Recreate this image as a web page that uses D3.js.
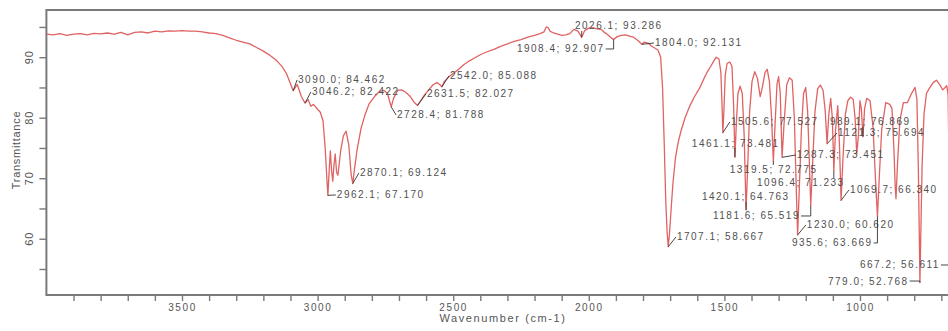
<!DOCTYPE html>
<html><head><meta charset="utf-8">
<script src="https://cdn.jsdelivr.net/npm/d3@7"></script>
<style>
html,body{margin:0;padding:0;overflow:hidden;background:#fff;}
svg{display:block;}
text{font-family:Arial,"Liberation Sans",sans-serif;}
</style></head><body>
<svg id="chart" width="1030" height="331"></svg>
<script>
// ---- data ----
const spectrumWn = [4000,3975,3950,3925,3900,3875,3850,3825,3800,3775,3750,3725,3700,3675,3650,3625,3600,3575,3550,3525,3500,3475,3450,3425,3400,3375,3350,3325,3300,3275,3250,3225,3200,3175,3150,3130,3115,3100,3090,
3075,3060,3046.2,3035,3025,3015,3000,2990,2980,2972,2966,2962.1,2957,2953,2948,2944,2940,2935,2930,2925,2915,2905,2895,2885,2876,2870.1,2864,2855,2840,2825,2810,2790,2770,2755,2742,2735,2728.4,2720,2705,2690,2675,2660,2645,2631.5,2620,2605,2590,2575,2560,2550,2542,2532,2515,2500,2480,2460,2440,2420,2400,2375,2350,2325,2300,2275,2250,2225,2200,2180,2165,2157,2150,2143,2130,2115,2100,2085,2070,2055,2040,2026.1,2015,2000,1985,1970,1955,1942,1930,1920,1908.4,1895,1880,1865,1850,1835,1820,1804,1795,1780,1768,1760,1745,1735,1728,1722,1716,1711,1707.1,1703,1697,1690,1680,1670,1660,1645,1627,1610,1590,1575,1565,1550,1540,1530,1520,1513,1509,1505.6,1502,1497,1490,1480,1472,1466,1461.1,1456,1450,1442,1434,1427,1420.1,1414,1407,1398,1388,1378,1368,1360,1350,1342,1334,1326,1319.5,1313,1306,1300,1294,1287.3,1280,1270,1260,1250,1242,1236,1230,1224,1216,1208,1200,1193,1187,1181.6,1175,1166,1156,1146,1136,1128,1121.3,1115,1108,1102,1096.4,1090,1082,1076,1069.7,1063,1054,1045,1035,1025,1018,1012,1006,1000,995,989.1,983,975,963,952,943,935.6,929,920,905,890,882,875,870,867.2,862,853,840,825,810,797,790,785,781,779,776,771,764,755,745,730,718,705,695,686,680,675,671,667.2,664,658,650,640,620,600];
const spectrumT = [93.8,93.7,93.9,93.6,93.8,93.9,93.7,93.95,93.85,94.0,93.8,94.1,93.7,94.1,94.2,94.0,94.3,94.2,94.35,94.3,94.4,94.3,94.3,94.2,94.0,93.9,93.6,93.2,92.8,92.5,92.2,91.6,91.0,90.3,89.4,88.4,87.3,85.6,84.462,
85.5,83.5,82.422,83.0,81.9,82.2,81.4,80.9,79.5,75.0,70.0,67.17,71.5,74.5,71.0,69.5,72.0,74.0,71.0,70.5,74.5,77.0,77.8,75.5,70.5,69.124,71.5,74.5,78.2,80.5,82.3,83.5,84.4,84.5,84.0,82.8,81.788,83.2,84.5,84.6,84.2,83.6,82.6,82.027,82.8,83.8,84.6,85.4,85.8,85.5,85.088,86.0,86.8,87.3,88.0,88.8,89.4,89.9,90.4,90.9,91.3,91.8,92.2,92.6,92.9,93.3,93.6,93.9,94.2,95.0,94.9,94.3,94.0,93.8,93.6,93.7,93.9,94.6,94.3,93.286,94.4,94.8,94.9,94.7,94.6,94.1,93.7,93.3,92.907,93.4,93.6,93.7,93.5,93.3,92.8,92.131,92.5,92.3,91.8,91.6,91.2,90.0,85.0,76.0,66.0,61.0,58.667,60.5,64.5,69.0,73.5,76.0,77.8,80.0,82.0,83.5,85.0,86.5,87.4,88.5,89.3,90.0,89.7,87.5,82.5,77.527,81.0,87.0,89.0,89.2,88.5,82.0,73.481,79.0,84.0,85.2,84.0,77.0,64.763,72.0,81.0,86.0,87.6,86.5,83.5,85.0,87.5,88.0,86.0,80.0,72.775,79.0,85.5,86.8,84.0,73.451,79.0,85.5,86.6,86.2,80.0,70.0,60.62,68.0,78.0,84.0,85.0,81.0,73.0,65.519,72.0,81.0,84.8,85.4,84.5,81.0,75.694,80.5,83.2,80.0,71.233,78.0,82.0,76.0,66.34,73.0,80.5,82.8,83.4,83.0,80.0,74.0,77.0,82.8,81.5,76.869,81.5,83.2,82.8,78.5,70.0,63.669,70.0,78.0,82.5,82.2,81.5,75.0,68.5,66.611,72.0,79.5,82.5,82.5,84.0,85.0,83.0,72.0,60.0,52.768,60.0,72.0,80.5,84.0,84.8,85.8,86.2,85.4,84.6,85.0,85.3,83.8,70.0,56.611,63.0,75.0,83.0,85.0,85.5,86.0];

const peakWn = [3090.0,3046.2,2962.1,2870.1,2728.4,2631.5,2542.0,1908.4,2026.1,1804.0,1707.1,1505.6,1461.1,1319.5,1287.3,1096.4,1420.1,1181.6,1230.0,935.6,989.1,1121.3,1069.7,667.2,779.0];
const peakT  = [84.462,82.422,67.170,69.124,81.788,82.027,85.088,92.907,93.286,92.131,58.667,77.527,73.481,72.775,73.451,71.233,64.763,65.519,60.620,63.669,76.869,75.694,66.340,56.611,52.768];
const labelWn = [3072,3021,2929,2844,2707,2597,2512,2265,2051,1756,1675,1476,1620,1480,1233,1380,1583,1542,1196,1251,1111,1081,1037,1000,1118];
const labelT  = [86.24,84.25,67.23,70.87,80.45,83.92,86.9,91.36,95.16,92.35,60.29,79.3,75.82,71.36,73.84,69.21,66.9,63.76,62.27,59.3,79.3,77.48,68.06,55.66,53.01];

const xTickValues = d3.range(3900, 600, -100);
const xTickLabels = [3500,3000,2500,2000,1500,1000];
const yTickValues = [55,60,65,70,75,80,85,90,95];
const yTickLabels = [60,70,80,90];

// ---- layout ----
const L = 46.4, R = 1022.7, T = 10, B = 295;
const svg = d3.select("#chart");
const x = d3.scaleLinear().domain([4000, 400]).range([L, R]);
const y = d3.scaleLinear().domain([50.7, 97.8]).range([B, T]);
const axisColor = "#7a7a7a";
const textColor = "#555";

svg.append("clipPath").attr("id","plotclip").append("rect")
  .attr("x", L).attr("y", T).attr("width", R-L).attr("height", B-T);

// x axis
const xAxis = svg.append("g").attr("transform", `translate(0,${B})`)
  .call(d3.axisBottom(x).tickValues(xTickValues).tickSize(6)
    .tickFormat(d => xTickLabels.includes(d) ? String(d) : ""));
xAxis.select(".domain").remove();
xAxis.selectAll(".tick line").attr("stroke", axisColor).attr("stroke-width", 1.4);
xAxis.selectAll(".tick text").attr("fill", textColor).attr("font-size", 10)
  .attr("letter-spacing", "1.6px").attr("y", 9).attr("dy", "0.71em");

// y axis
const yAxis = svg.append("g").attr("transform", `translate(${L},0)`)
  .call(d3.axisLeft(y).tickValues(yTickValues).tickSize(7).tickFormat(""));
yAxis.select(".domain").remove();
yAxis.selectAll(".tick line").attr("stroke", axisColor).attr("stroke-width", 1.4);
svg.append("g").selectAll("text").data(yTickLabels).join("text")
  .attr("transform", d => `translate(29,${y(d)}) rotate(-90)`)
  .attr("text-anchor", "middle").attr("dominant-baseline", "central")
  .attr("font-size", 11).attr("letter-spacing", "1px").attr("fill", textColor)
  .text(d => d);

// frame
svg.append("path")
  .attr("d", `M${R},${T} H${L} V${B} H${R}`)
  .attr("fill", "none").attr("stroke", axisColor).attr("stroke-width", 2);

// axis titles
svg.append("text").attr("x", 503).attr("y", 322).attr("text-anchor","middle")
  .attr("font-size", 11).attr("letter-spacing","1.6px").attr("fill", textColor)
  .text("Wavenumber (cm-1)");
svg.append("text").attr("transform","translate(16,150) rotate(-90)")
  .attr("text-anchor","middle").attr("dominant-baseline","central")
  .attr("font-size", 11).attr("letter-spacing","0.7px").attr("fill", textColor)
  .text("Transmittance");

// spectrum
const pts = spectrumWn.map((w,i) => [w, spectrumT[i]]);
svg.append("path").datum(pts)
  .attr("clip-path","url(#plotclip)")
  .attr("fill","none").attr("stroke","#e06262").attr("stroke-width",1.3)
  .attr("stroke-linejoin","round")
  .attr("d", d3.line().x(d => x(d[0])).y(d => y(d[1])));

// peak labels
const fmtW = d3.format(".1f"), fmtT = d3.format(".3f");
const lab = svg.append("g");
const leaders = svg.append("g");
peakWn.forEach((w,i) => {
  const tx = x(labelWn[i]), ty = y(labelT[i]);
  const t = lab.append("text").attr("x", tx).attr("y", ty)
    .attr("dominant-baseline","central").attr("font-size", 10)
    .attr("letter-spacing","1.5px").attr("fill","#505050")
    .text(`${fmtW(w)}; ${fmtT(peakT[i])}`);
  const tw = t.node().getComputedTextLength();
  const px = x(w), py = y(peakT[i]);
  let d;
  if (px < tx) d = `M${px},${py} L${tx-1},${ty}`;
  else if (px > tx + tw) d = `M${tx+tw+1},${ty} H${px} V${py}`;
  else d = `M${px},${py} V${py < ty ? ty-5 : ty+5}`;
  leaders.append("path").attr("d", d).attr("fill","none")
    .attr("stroke","#333").attr("stroke-width",0.9);
});
</script>
</body></html>
